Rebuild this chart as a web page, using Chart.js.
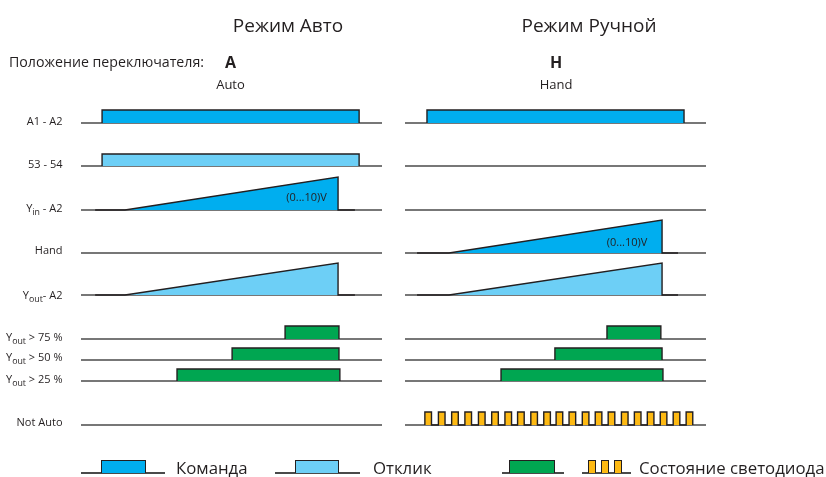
<!DOCTYPE html>
<html>
<head>
<meta charset="utf-8">
<script src="https://cdn.jsdelivr.net/npm/chart.js@4.4.1/dist/chart.umd.min.js"></script>
<style>
html,body{margin:0;padding:0;background:#fff;}
#wrap{position:relative;width:826px;height:477px;overflow:hidden;font-family:"Open Sans",sans-serif;color:#231f20;}
#wrap canvas{position:absolute;left:0;top:0;}
.t{position:absolute;white-space:nowrap;line-height:1;}
.c{transform:translate(-50%,-50%);}
.r{transform:translate(-100%,-50%);}
.l{transform:translate(0,-50%);}
.t sub{font-size:0.8em;vertical-align:-0.35em;line-height:0;}
.lg{position:absolute;box-sizing:border-box;}
</style>
</head>
<body>
<div id="wrap"><canvas id="c"></canvas><div id="txt"></div></div>
<script>
// ---------------- DATA ----------------
// time axis of each panel runs 0..100 (arbitrary time units)
const panelTitles   = ['Режим Авто', 'Режим Ручной'];
const switchLetters = ['A', 'H'];
const switchNames   = ['Auto', 'Hand'];
const switchCaption = 'Положение переключателя:';
const rowLabels = ['A1 - A2', '53 - 54', 'Y<sub>in</sub> - A2', 'Hand', 'Y<sub>out</sub>- A2',
                   'Y<sub>out</sub> &gt; 75 %', 'Y<sub>out</sub> &gt; 50 %', 'Y<sub>out</sub> &gt; 25 %', 'Not Auto'];
const rangeLabel = '(0...10)V';
// digital signals: [on, off] per panel (Auto, Hand); null = stays low
const cmdA1A2  = [[7.0, 92.4], [7.3, 92.7]];
const resp5354 = [[7.0, 92.4], null];
// analog ramps: [trace start, ramp start, ramp end, trace end] per panel
const yinA2    = [[4.7, 14.6, 85.4, 91.0], null];
const handIn   = [null, [4.0, 14.6, 85.4, 90.7]];
const youtA2   = [[4.7, 14.6, 85.4, 91.0], [4.0, 14.6, 85.4, 90.7]];
const rampPeakV = 10;
const youtGt75 = [[67.8, 85.7], [67.1, 85.0]];
const youtGt50 = [[50.2, 85.7], [49.8, 85.4]];
const youtGt25 = [[31.9, 86.0], [31.9, 85.7]];
// LED blinking (Not Auto) pulse start times per panel
const notAutoPulses = [[], [6.6, 11.1, 15.5, 19.9, 24.4, 28.8, 33.2, 37.4, 41.8, 46.1, 50.2,
                            54.5, 58.9, 63.2, 67.5, 71.9, 76.2, 80.5, 84.8, 89.1, 93.4]];
const pulseWidth = 2.2;
const legendLabels = ['Команда', 'Отклик', '', 'Состояние светодиода'];

// ---------------- LAYOUT & STYLE ----------------
const W = 826, H = 477, T_END = 100;
const panelLeftPx = [81, 405];
const panelSpanPx = 301;
const rowBasePx = [123, 166, 210, 253, 295, 339, 360, 381, 425];
const rowFullPx = [13, 12, 33, 33, 32, 13, 12, 12, 13];
const rowFullVal = [1, 1, rampPeakV, rampPeakV, rampPeakV, 1, 1, 1, 1];
const COL = {cmd:'#00aeef', resp:'#6dcff6', green:'#00a651', led:'#fdb913', edge:'#231f20', base:'#4a4a4a'};

const rows = [
  {kind:'step',  data:cmdA1A2,  fill:COL.cmd},
  {kind:'step',  data:resp5354, fill:COL.resp},
  {kind:'ramp',  data:yinA2,    fill:COL.cmd},
  {kind:'ramp',  data:handIn,   fill:COL.cmd},
  {kind:'ramp',  data:youtA2,   fill:COL.resp},
  {kind:'step',  data:youtGt75, fill:COL.green},
  {kind:'step',  data:youtGt50, fill:COL.green},
  {kind:'step',  data:youtGt25, fill:COL.green},
  {kind:'pulse', data:notAutoPulses, fill:COL.led}
];

function stepTrace(s){ return [{x:s[0],y:0},{x:s[0],y:1},{x:s[1],y:1},{x:s[1],y:0}]; }
function rampTrace(r){ return [{x:r[0],y:0},{x:r[1],y:0},{x:r[2],y:rampPeakV},{x:r[2],y:0},{x:r[3],y:0}]; }
function pulseTrace(st){ const d=[]; st.forEach(s=>d.push({x:s,y:0},{x:s,y:1},{x:s+pulseWidth,y:1},{x:s+pulseWidth,y:0})); return d; }

const scales = {};
const datasets = [];
[0,1].forEach(p=>{
  scales['x'+p] = {type:'linear', axis:'x', position:'bottom', display:false,
    min: -panelLeftPx[p]*T_END/panelSpanPx, max:(W-panelLeftPx[p])*T_END/panelSpanPx};
});
rows.forEach((row,i)=>{
  const k = rowFullPx[i]/rowFullVal[i];
  const max = rowBasePx[i]/k;
  scales['y'+i] = {type:'linear', axis:'y', position:'left', display:false, min:max-H/k, max:max};
  [0,1].forEach(p=>{
    datasets.push({data:[{x:0,y:0},{x:T_END,y:0}], xAxisID:'x'+p, yAxisID:'y'+i,
      borderColor:COL.base, borderWidth:1.4, pointRadius:0, fill:false, order:2});
    const v = row.data[p];
    if(!v || (Array.isArray(v) && v.length===0)) return;
    let d;
    if(row.kind==='step') d = stepTrace(v);
    else if(row.kind==='ramp') d = rampTrace(v);
    else d = pulseTrace(v);
    datasets.push({data:d, xAxisID:'x'+p, yAxisID:'y'+i, borderColor:COL.edge, borderWidth:1.4,
      backgroundColor:row.fill, fill:'origin', pointRadius:0, order:1,
      borderJoinStyle:'miter', borderCapStyle:'butt'});
  });
});

const cv = document.getElementById('c');
cv.style.width = W+'px'; cv.style.height = H+'px';
new Chart(cv, {
  type:'line',
  data:{datasets},
  options:{
    responsive:false, animation:false, events:[],
    layout:{padding:0},
    elements:{line:{tension:0}},
    plugins:{legend:{display:false}, tooltip:{enabled:false}},
    scales
  }
});

// ---------------- TEXT ----------------
const txt = document.getElementById('txt');
function addText(html, x, y, cls, style){
  const d = document.createElement('div');
  d.className = 't '+cls; d.innerHTML = html;
  d.style.left = x+'px'; d.style.top = y+'px';
  Object.assign(d.style, style||{});
  txt.appendChild(d);
}
const titleX = [288, 589], letterX = [230.5, 556];
panelTitles.forEach((s,p)=>addText(s, titleX[p], 24.5, 'c', {fontSize:'19px'}));
addText(switchCaption, 9, 62, 'l', {fontSize:'14.2px'});
switchLetters.forEach((s,p)=>addText(s, letterX[p], 61.5, 'c', {fontSize:'16px', fontWeight:'bold'}));
switchNames.forEach((s,p)=>addText(s, letterX[p], 83.5, 'c', {fontSize:'13px'}));
const labelY = [119.7, 162.5, 207, 249, 293.5, 335.5, 356.3, 378, 421];
rowLabels.forEach((s,i)=>addText(s, 62.5, labelY[i], 'r', {fontSize:'11px'}));
addText(rangeLabel, 306.5, 196, 'c', {fontSize:'11px'});
addText(rangeLabel, 627, 241, 'c', {fontSize:'11px'});

// ---------------- LEGEND ----------------
const lgBaseY = 473, lgTopY = 461;
const lgItems = [
  {line:[81,165],  boxes:[[102,145]], color:COL.cmd,   textX:176},
  {line:[275,360], boxes:[[296,338]], color:COL.resp,  textX:373},
  {line:[502,564], boxes:[[510,554]], color:COL.green, textX:0},
  {line:[582,631], boxes:[[589,595],[602,608],[615,621]], color:COL.led, textX:639}
];
const wrap = document.getElementById('wrap');
lgItems.forEach((it,j)=>{
  const ln = document.createElement('div'); ln.className='lg';
  Object.assign(ln.style,{left:it.line[0]+'px', top:(lgBaseY-0.7)+'px', width:(it.line[1]-it.line[0])+'px', height:'1.4px', background:COL.base});
  wrap.appendChild(ln);
  it.boxes.forEach(b=>{
    const bx = document.createElement('div'); bx.className='lg';
    Object.assign(bx.style,{left:(b[0]-0.7)+'px', top:(lgTopY-0.7)+'px', width:(b[1]-b[0]+1.4)+'px', height:(lgBaseY-lgTopY+0.7)+'px',
      background:it.color, border:'1.4px solid '+COL.edge, borderBottom:'none'});
    wrap.appendChild(bx);
  });
  if(legendLabels[j]) addText(legendLabels[j], it.textX, 467.5, 'l', {fontSize:'16.8px'});
});
</script>
</body>
</html>
